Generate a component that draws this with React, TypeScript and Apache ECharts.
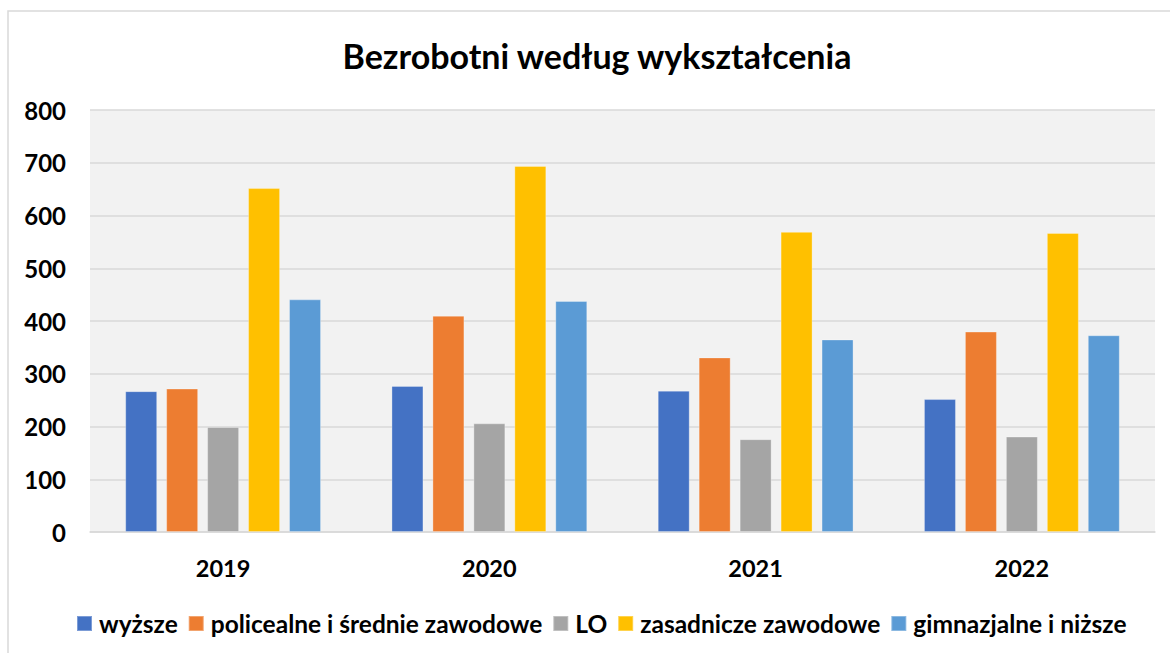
import React, { useEffect, useRef } from "react";
import * as echarts from "echarts";

const years = ["2019", "2020", "2021", "2022"];
const seriesNames = [
  "wyższe",
  "policealne i średnie zawodowe",
  "LO",
  "zasadnicze zawodowe",
  "gimnazjalne i niższe",
];
const wyzsze = [267, 277, 268, 252];
const policealne = [272, 410, 331, 380];
const lo = [199, 206, 176, 181];
const zasadnicze = [652, 694, 569, 567];
const gimnazjalne = [441, 438, 365, 373];
const colors = ["#4472C4", "#ED7D31", "#A5A5A5", "#FFC000", "#5B9BD5"];

const FONT = "Lato";

export default function App() {
  const ref = useRef<HTMLDivElement>(null);
  useEffect(() => {
    if (!ref.current) return;
    const chart = echarts.init(ref.current, undefined, { renderer: "svg" });
    const data = [wyzsze, policealne, lo, zasadnicze, gimnazjalne];
    chart.setOption({
      animation: false,
      backgroundColor: "#ffffff",
      title: {
        text: "Bezrobotni według wykształcenia",
        left: 592,
        textAlign: "center",
        top: 33,
        textStyle: {
          fontFamily: FONT,
          fontWeight: "bold",
          fontSize: 34,
          color: "#000",
        },
      },
      graphic: [
        {
          type: "rect",
          shape: { x: 8, y: 11, width: 1190, height: 670 },
          style: { fill: "none", stroke: "#D9D9D9", lineWidth: 1.5 },
          silent: true,
        },
      ],
      legend: {
        top: 606,
        left: 76,
        width: 1094,
        padding: [5, 0, 5, 0],
        itemWidth: 15,
        itemHeight: 15,
        itemGap: 10,
        icon: "rect",
        textStyle: {
          fontFamily: FONT,
          fontWeight: "bold",
          fontSize: 24.5,
          color: "#000",
          padding: [0, 0, 0, 2],
        },
        data: seriesNames,
      },
      grid: {
        left: 90,
        right: 15,
        top: 110,
        bottom: 121,
        show: true,
        backgroundColor: "#F2F2F2",
        borderWidth: 0,
      },
      xAxis: {
        type: "category",
        data: years,
        axisLine: { show: true, lineStyle: { color: "#D9D9D9", width: 1.5 } },
        axisTick: { show: false },
        axisLabel: {
          fontFamily: FONT,
          fontWeight: "bold",
          fontSize: 23.5,
          color: "#000",
          margin: 24,
        },
      },
      yAxis: {
        type: "value",
        min: 0,
        max: 800,
        interval: 100,
        axisLine: { show: false },
        axisTick: { show: false },
        splitLine: { lineStyle: { color: "#D9D9D9", width: 1.5 } },
        axisLabel: {
          fontFamily: FONT,
          fontWeight: "bold",
          fontSize: 24,
          color: "#000",
          margin: 24,
        },
      },
      series: seriesNames.map((name, i) => ({
        name,
        type: "bar",
        data: data[i],
        barWidth: 32,
        barGap: "28%",
        itemStyle: {
          color: colors[i],
          borderColor: "rgba(255,255,255,0.3)",
          borderWidth: 1,
        },
      })),
    });
    return () => chart.dispose();
  }, []);
  return (
    <div
      ref={ref}
      style={{ position: "fixed", left: 0, top: 0, width: 1170, height: 653 }}
    />
  );
}
